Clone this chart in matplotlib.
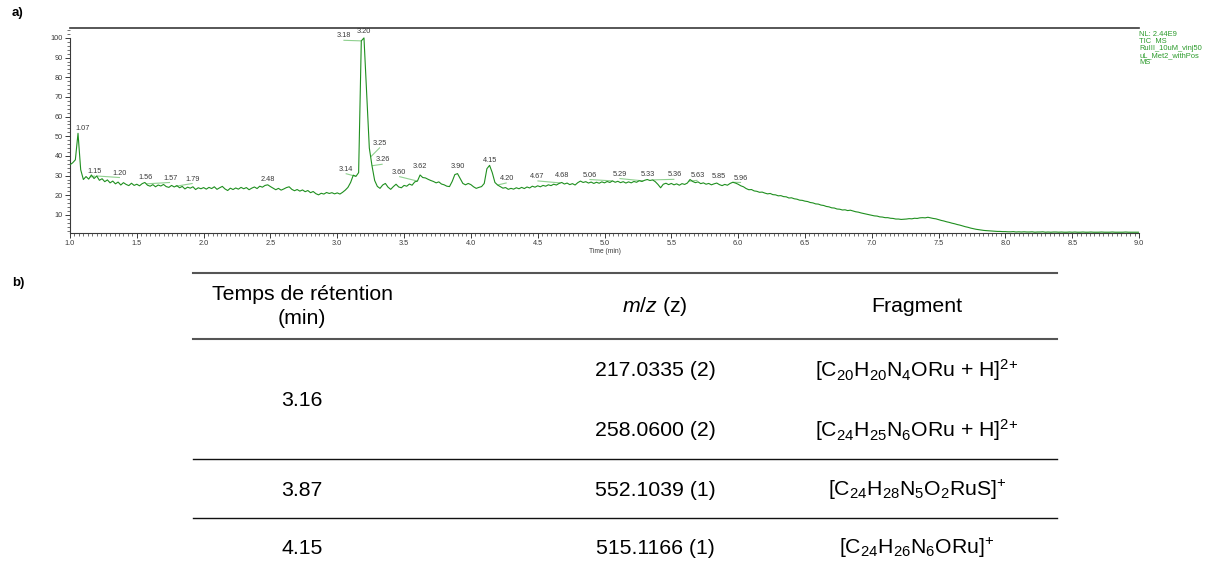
import numpy as np
import matplotlib
matplotlib.use("Agg")
import matplotlib.pyplot as plt
from matplotlib.ticker import MultipleLocator
from matplotlib.lines import Line2D

plt.rcParams['font.family'] = ['Liberation Sans', 'DejaVu Sans']
plt.rcParams['mathtext.fontset'] = 'custom'
plt.rcParams['mathtext.rm'] = 'Liberation Sans'
plt.rcParams['mathtext.it'] = 'Liberation Sans:italic'
plt.rcParams['mathtext.bf'] = 'Liberation Sans:bold'

# ---------------- data: TIC chromatogram (relative abundance), 0.02 min steps
t_start = 1.0
t_step = 0.02
tic_1 = [35.5, 36.5, 38.0, 51.5, 33.0, 28.0, 29.5, 28.2, 30.3, 28.5,
         29.8, 27.6, 28.4, 26.9, 27.8, 26.3, 27.2, 25.8, 26.7, 25.2,
         26.4, 25.5, 24.9, 26.1, 25.0, 25.6, 24.8, 25.9, 26.5, 25.1,
         24.6, 25.4, 24.3, 25.2, 24.7, 25.5, 24.4, 24.0, 25.0, 24.2,
         24.9, 23.8, 24.5, 23.2, 24.1, 23.6, 24.3, 22.9, 23.8, 23.3]
tic_2 = [23.9, 23.1, 24.0, 23.4, 24.3, 23.0, 23.8, 24.5, 23.2, 22.4,
         23.6, 22.9, 23.7, 23.1, 24.0, 23.3, 23.9, 22.8, 23.6, 24.2,
         23.4, 24.6, 24.1, 25.0, 25.3, 24.4, 23.6, 22.8, 23.5, 22.6,
         23.2, 23.9, 24.3, 23.0, 22.3, 22.9, 22.1, 22.7, 21.8, 22.4,
         21.3, 21.9, 20.8, 20.2, 21.0, 20.6, 21.4, 20.9, 21.3, 20.7]
tic_3 = [21.2, 20.6, 21.5, 22.6, 24.0, 26.5, 30.2, 29.6, 31.5, 98.5,
         100.0, 72.0, 44.0, 35.0, 27.5, 24.5, 23.5, 25.2, 26.0, 24.1,
         23.0, 24.4, 25.6, 24.2, 23.8, 25.0, 24.6, 25.7, 25.1, 26.8,
         27.2, 30.3, 29.0, 28.8, 28.1, 27.5, 27.0, 26.3, 26.8, 25.7,
         25.3, 24.6, 24.4, 27.0, 30.5, 31.0, 28.5, 26.0, 25.3, 26.0]
tic_4 = [25.4, 24.3, 23.5, 24.0, 24.4, 26.0, 33.5, 35.2, 31.5, 26.5,
         25.2, 24.4, 23.6, 23.9, 23.0, 23.5, 23.1, 23.8, 23.3, 24.0,
         23.4, 24.2, 23.7, 24.6, 24.1, 24.8, 24.3, 25.0, 24.6, 25.3,
         24.9, 25.6, 25.2, 26.0, 26.5, 25.7, 26.2, 25.4, 25.9, 25.2,
         26.4, 27.2, 26.5, 26.9, 26.2, 26.7, 26.0, 26.6, 26.1, 26.8]
tic_5 = [26.3, 27.0, 26.5, 27.3, 26.6, 27.1, 26.4, 26.9, 26.2, 26.8,
         26.3, 27.0, 26.6, 27.4, 27.0, 27.6, 28.0, 27.5, 27.8, 26.9,
         25.5, 23.8, 25.6, 26.1, 25.4, 26.0, 25.3, 25.8, 25.1, 25.9,
         25.5, 26.2, 28.0, 27.0, 26.4, 26.8, 25.9, 26.3, 25.6, 26.0,
         25.3, 25.8, 26.2, 25.4, 24.9, 25.5, 25.1, 26.0, 26.6, 26.2]
tic_6 = [25.6, 24.8, 24.3, 23.4, 22.8, 22.9, 22.2, 22.0, 21.5, 21.6,
         21.1, 20.7, 20.9, 20.3, 20.2, 19.7, 19.8, 19.3, 19.2, 18.6,
         18.7, 18.2, 18.0, 17.5, 17.4, 17.0, 16.8, 16.3, 16.1, 15.6,
         15.5, 15.0, 14.8, 14.3, 14.1, 13.6, 13.5, 13.0, 12.9, 12.5,
         12.6, 12.2, 12.4, 12.0, 11.6, 11.4, 11.0, 10.7, 10.4, 10.1]
tic_7 = [9.8, 9.5, 9.4, 9.0, 8.9, 8.6, 8.6, 8.3, 8.2, 7.9,
         7.9, 7.7, 7.8, 7.9, 8.1, 8.0, 8.3, 8.2, 8.5, 8.6,
         8.5, 8.8, 8.5, 8.2, 8.0, 7.6, 7.2, 6.9, 6.5, 6.2,
         5.8, 5.5, 5.1, 4.8, 4.4, 4.0, 3.7, 3.3, 3.0, 2.7,
         2.5, 2.3, 2.1, 2.0, 1.9, 1.8, 1.7, 1.6, 1.6, 1.5]
tic_8 = [1.5, 1.4, 1.4, 1.5, 1.3, 1.4, 1.3, 1.4, 1.3, 1.3,
         1.4, 1.2, 1.3, 1.3, 1.4, 1.2, 1.3, 1.2, 1.3, 1.3,
         1.2, 1.3, 1.2, 1.2, 1.3, 1.2, 1.3, 1.2, 1.2, 1.3,
         1.2, 1.2, 1.3, 1.2, 1.2, 1.2, 1.3, 1.2, 1.2, 1.2,
         1.3, 1.2, 1.2, 1.2, 1.2, 1.3, 1.2, 1.2, 1.2, 1.2, 1.2]

# peak labels: retention time, label centre (time, abundance)
peak_rt = [1.07, 1.15, 1.20, 1.56, 1.57, 1.79, 2.48, 3.14, 3.18, 3.20, 3.25, 3.26, 3.60,
           3.62, 3.90, 4.15, 4.20, 4.67, 4.68, 5.06, 5.29, 5.33, 5.36, 5.63, 5.85, 5.96]
label_t = [1.097, 1.187, 1.374, 1.566, 1.749, 1.918, 2.477, 3.063, 3.046, 3.200, 3.320, 3.340, 3.463,
           3.620, 3.900, 4.144, 4.268, 4.498, 4.685, 4.887, 5.112, 5.324, 5.523, 5.696, 5.853, 6.022]
label_v = [53.7, 32.0, 31.2, 29.2, 28.7, 28.2, 28.2, 33.2, 101.0, 103.2, 46.5, 38.0, 31.7,
           34.6, 34.6, 37.5, 28.5, 29.5, 29.8, 30.2, 30.7, 30.7, 30.3, 29.8, 29.5, 28.7]

nl_lines = ["NL: 2.44E9", "TIC  MS", "RuIII_10uM_vinj50", "uL_Met2_withPos", "MS"]

# table
col_headers = ["Temps de rétention\n(min)", r"$\mathit{m/z}$ (z)", "Fragment"]
ret_times = ["3.16", "3.87", "4.15"]
mz_values = ["217.0335 (2)", "258.0600 (2)", "552.1039 (1)", "515.1166 (1)"]
fragments = [r"[C$_{20}$H$_{20}$N$_{4}$ORu + H]$^{2{+}}$",
             r"[C$_{24}$H$_{25}$N$_{6}$ORu + H]$^{2{+}}$",
             r"[C$_{24}$H$_{28}$N$_{5}$O$_{2}$RuS]$^{{+}}$",
             r"[C$_{24}$H$_{26}$N$_{6}$ORu]$^{{+}}$"]

# ---------------- figure
W, H = 1206, 561
fig = plt.figure(figsize=(W / 100, H / 100), dpi=100)

def fx(px):
    return px / W

def fy(py):
    return 1 - py / H

tic = np.array(tic_1 + tic_2 + tic_3 + tic_4 + tic_5 + tic_6 + tic_7 + tic_8)
time = t_start + t_step * np.arange(len(tic))

ax_l, ax_r, ax_t, ax_b = 70, 1139, 27.7, 233
ax = fig.add_axes([fx(ax_l), fy(ax_b), fx(ax_r - ax_l), (ax_b - ax_t) / H])
green = '#1f8f1f'
ax.plot(time, tic, color=green, lw=0.8, zorder=3)
ax.set_xlim(1.0, 9.0)
ax.set_ylim(0.8, 105.2)

axis_col = '#3a3a3a'
for s in ['left', 'bottom', 'top']:
    ax.spines[s].set_color(axis_col)
ax.spines['right'].set_visible(False)
ax.spines['left'].set_bounds(0.8, 100)
ax.spines['left'].set_linewidth(0.8)
ax.spines['bottom'].set_linewidth(0.8)
ax.spines['top'].set_linewidth(1.2)

ax.xaxis.set_minor_locator(MultipleLocator(1 / 30))
ax.yaxis.set_minor_locator(MultipleLocator(2))
ax.set_yticks(np.arange(10, 101, 10))
ax.set_xticks(np.arange(1.0, 9.01, 0.5))
ax.set_xticklabels([f"{v:.1f}" for v in np.arange(1.0, 9.01, 0.5)])
ax.tick_params(axis='both', which='major', direction='out', length=3.5, width=0.7,
               labelsize=5.3, colors=axis_col, pad=1.5)
ax.tick_params(axis='both', which='minor', direction='out', length=2, width=0.5, colors=axis_col)
ax.set_xlabel("Time (min)", fontsize=4.8, color=axis_col, labelpad=1)

# peak labels with leader lines
for rt, lt, lv in zip(peak_rt, label_t, label_v):
    av = float(np.interp(rt, time, tic))
    if abs(lt - rt) > 0.03:
        ax.plot([rt, lt], [av, lv - 2.2], color='#8fd08f', lw=0.8, zorder=2,
                solid_capstyle='butt')
    ax.text(lt, lv, f"{rt:.2f}", fontsize=5.3, color='#3a3a3a', ha='center', va='center', zorder=4)

# NL annotation
for i, line in enumerate(nl_lines):
    fig.text(fx(1139), fy(34.5 + 7 * i), line, fontsize=5.4, color='#2a9a2a',
             ha='left', va='center')

# panel labels
fig.text(fx(12), fy(13), "a)", fontsize=9.5, fontweight='bold', ha='left', va='center')
fig.text(fx(12), fy(283), "b)", fontsize=9.5, fontweight='bold', ha='left', va='center')

# ---------------- table
tl, tr = 193, 1057
for y, lw, c in [(273, 1.5, '#555555'), (339, 1.5, '#555555'), (459, 1.0, '#111111'),
                 (518, 1.0, '#111111')]:
    fig.add_artist(Line2D([fx(tl), fx(tr)], [fy(y), fy(y)], color=c, lw=lw))

cx = [302, 655, 917]
fs = 15.3
fig.text(fx(cx[0]), fy(306.5), col_headers[0], fontsize=fs, ha='center', va='center',
         linespacing=1.3)
fig.text(fx(cx[1]), fy(306.5), col_headers[1], fontsize=fs, ha='center', va='center')
fig.text(fx(cx[2]), fy(306.5), col_headers[2], fontsize=fs, ha='center', va='center')

row_y = [370, 430, 490, 548]
ret_y = [400, 490, 548]
for s, y in zip(ret_times, ret_y):
    fig.text(fx(cx[0]), fy(y), s, fontsize=fs, ha='center', va='center')
for s, y in zip(mz_values, row_y):
    fig.text(fx(cx[1]), fy(y), s, fontsize=fs, ha='center', va='center')
for s, y in zip(fragments, row_y):
    fig.text(fx(cx[2]), fy(y), s, fontsize=fs, ha='center', va='center')

fig.savefig("out.png", dpi=100)
